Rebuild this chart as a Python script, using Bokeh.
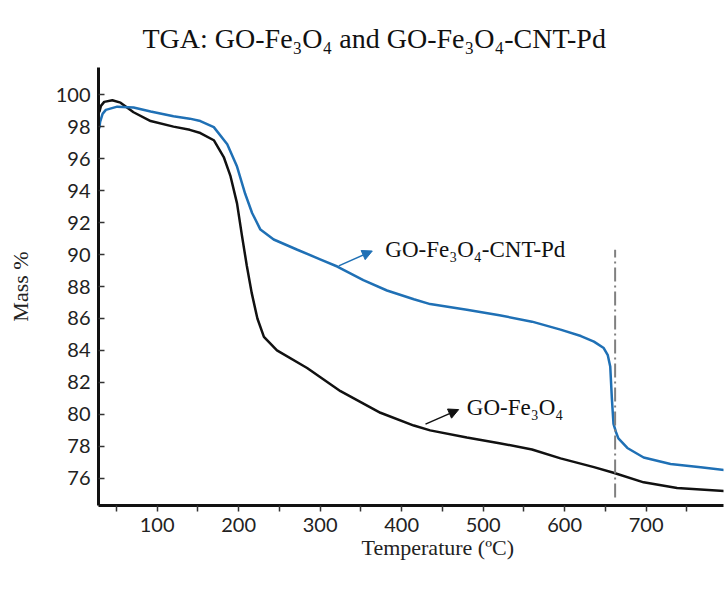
from bokeh.plotting import figure
from bokeh.models import Range1d, FixedTicker, Label, Arrow, NormalHead, Title
from bokeh.embed import file_html
from bokeh.resources import INLINE

# ---- data ----
temp_go = [29, 31, 35, 45, 55, 71, 92, 120, 140, 153, 169.5, 181.7, 190, 198, 204, 210,
           216, 223, 231, 247, 284, 325, 374, 415, 435, 480, 520, 560, 595, 636, 660,
           697, 738, 800]
mass_go = [98.9, 99.3, 99.55, 99.65, 99.5, 98.9, 98.35, 98.0, 97.8, 97.6, 97.15, 96.1,
           94.9, 93.2, 91.2, 89.3, 87.6, 86.0, 84.85, 84.0, 82.9, 81.45, 80.1, 79.3, 79.0,
           78.55, 78.2, 77.8, 77.25, 76.7, 76.35, 75.75, 75.4, 75.2]

temp_cnt = [29, 30, 33, 37, 51, 71, 92, 120, 140, 153, 169.5, 186, 198, 208, 216.5, 226.7,
            243, 272, 300, 321, 353, 382, 415, 435, 480, 520, 560, 595, 620, 636, 648, 653,
            656, 658, 660, 663, 666, 677, 697, 730, 767, 800]
mass_cnt = [97.9, 98.3, 98.8, 99.05, 99.25, 99.2, 98.95, 98.65, 98.5, 98.35, 97.97, 96.9,
            95.5, 93.8, 92.6, 91.56, 90.94, 90.3, 89.7, 89.25, 88.4, 87.75, 87.2, 86.9,
            86.55, 86.2, 85.8, 85.3, 84.9, 84.55, 84.15, 83.7, 83.0, 81.0, 79.4, 78.9, 78.5,
            77.9, 77.3, 76.9, 76.7, 76.5]

x_ticks = [100, 200, 300, 400, 500, 600, 700]
x_minor = [50, 150, 250, 350, 450, 550, 650, 750]
y_ticks = [76, 78, 80, 82, 84, 86, 88, 90, 92, 94, 96, 98, 100]
onset_temp = [662]
onset_mass_lo = [74.8]
onset_mass_hi = [90.3]

title_text = "TGA: GO-Fe\u2083O\u2084 and GO-Fe\u2083O\u2084-CNT-Pd"
label_go = "GO-Fe\u2083O\u2084"
label_cnt = "GO-Fe\u2083O\u2084-CNT-Pd"
x_label = "Temperature (\u00baC)"
y_label = "Mass %"

SERIF = "Liberation Serif"

p = figure(width=728, height=592, output_backend="svg", toolbar_location=None,
           x_range=Range1d(28, 795), y_range=Range1d(74.3, 101.7),
           min_border_left=98, min_border_right=5, min_border_top=67, min_border_bottom=87)
p.outline_line_color = None
p.grid.visible = False
p.background_fill_color = "white"
p.border_fill_color = "white"

# title (above) and x label (below) as Title objects for precise placement
p.title = Title(text=title_text, align="left", offset=44, text_font=SERIF,
                text_font_size="28px", text_font_style="normal", text_color="#111111",
                vertical_align="bottom", standoff=28)
p.add_layout(Title(text=x_label, align="left", offset=263, text_font=SERIF,
                   text_font_size="22px", text_font_style="normal", text_color="#222222",
                   vertical_align="top", standoff=0), "below")

# axes
for ax in (p.xaxis[0], p.yaxis[0]):
    ax.axis_line_width = 3
    ax.axis_line_color = "#111111"
    ax.major_tick_line_color = "#333333"
    ax.major_tick_line_width = 1.5
    ax.minor_tick_line_color = "#333333"
    ax.minor_tick_line_width = 1.5
    ax.major_label_text_font = "Lato"
    ax.major_label_text_font_size = "20px"
    ax.major_label_text_color = "#222222"

xa = p.xaxis[0]
xa.ticker = FixedTicker(ticks=x_ticks, minor_ticks=x_minor)
xa.major_tick_in = 0
xa.major_tick_out = 6
xa.minor_tick_in = 0
xa.minor_tick_out = 6
xa.major_label_standoff = 6

ya = p.yaxis[0]
ya.ticker = FixedTicker(ticks=y_ticks, minor_ticks=[])
ya.major_tick_in = 6
ya.major_tick_out = 0
ya.major_label_standoff = 8
ya.axis_label = y_label
ya.axis_label_text_font = SERIF
ya.axis_label_text_font_style = "normal"
ya.axis_label_text_font_size = "22px"
ya.axis_label_text_color = "#222222"
ya.axis_label_standoff = 20

# curves
p.line(temp_go, mass_go, line_color="#111111", line_width=2.5)
p.line(temp_cnt, mass_cnt, line_color="#1f70b5", line_width=2.5)

# onset marker
p.segment(x0=onset_temp, y0=onset_mass_lo, x1=onset_temp, y1=onset_mass_hi,
          line_color="#808080", line_width=2, line_dash="14 4 2 4")

# arrows + labels
p.add_layout(Arrow(end=NormalHead(size=10, fill_color="#1f70b5", line_color="#1f70b5"),
                   x_start=322.8, y_start=89.29, x_end=364, y_end=90.22,
                   line_color="#1f70b5", line_width=1.5))
p.add_layout(Arrow(end=NormalHead(size=10, fill_color="#111111", line_color="#111111"),
                   x_start=429.3, y_start=79.39, x_end=470, y_end=80.3,
                   line_color="#111111", line_width=1.5))
p.add_layout(Label(x=380, y=90.29, text=label_cnt, text_font=SERIF, text_font_size="23px",
                   text_color="#111111", text_align="left", text_baseline="middle"))
p.add_layout(Label(x=480, y=80.43, text=label_go, text_font=SERIF, text_font_size="23px",
                   text_color="#111111", text_align="left", text_baseline="middle"))

open("out.html", "w").write(file_html(p, INLINE))
